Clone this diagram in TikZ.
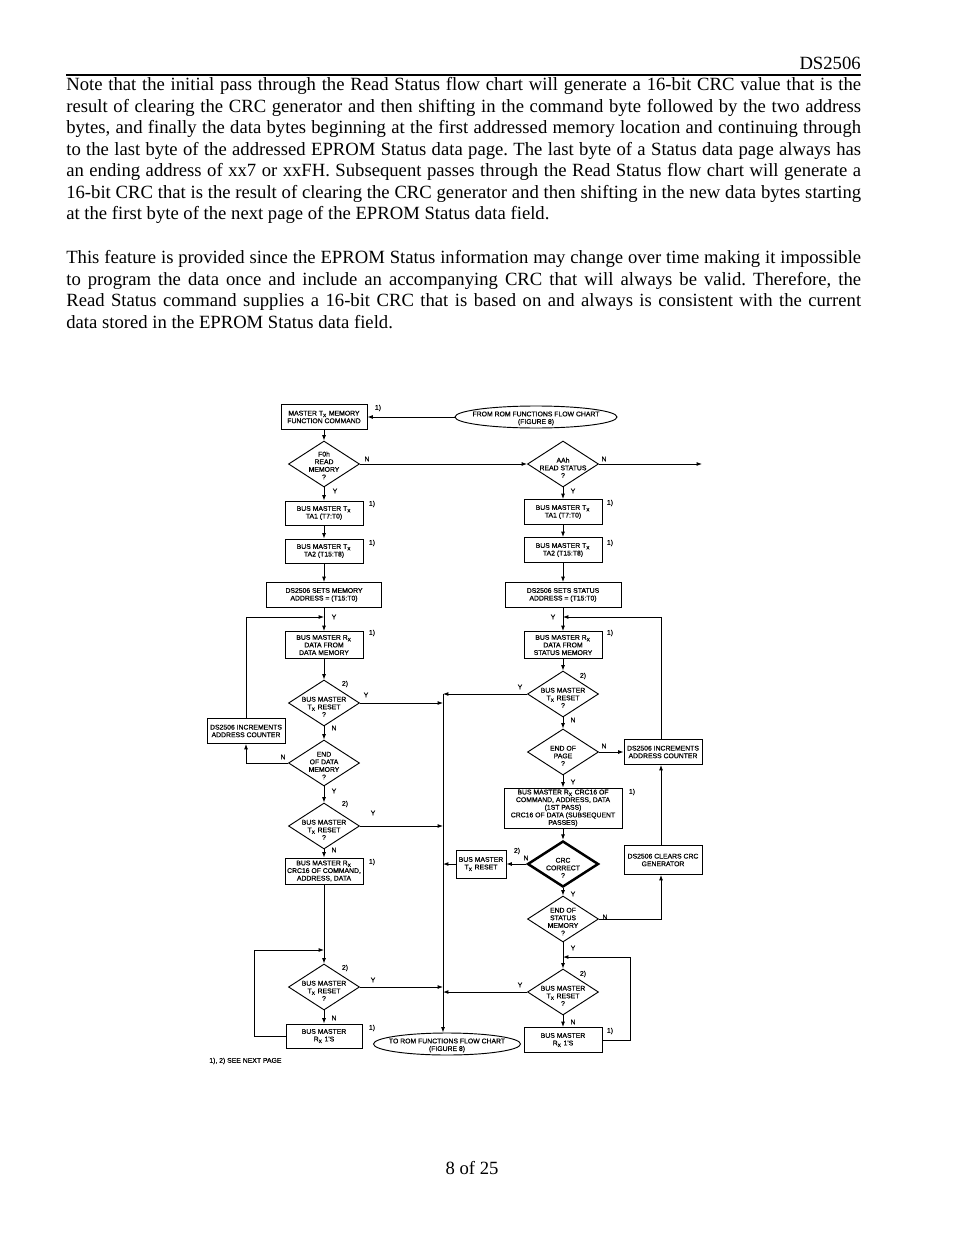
\documentclass[tikz,border=0pt]{standalone}
\usepackage{fontspec}
\setmainfont{Liberation Serif}
\newfontfamily\chartfont[FakeBold=0.6]{Liberation Sans}
\usetikzlibrary{arrows.meta,positioning,shapes.geometric}
\frenchspacing

\newdimen\pxu \pxu=0.6429pt
% centred lines that do not grow the shape
\newcommand{\inbox}[2][-4.3pt]{\smash{\makebox[0pt]{\raisebox{#1}{\begin{tabular}{@{}c@{}}#2\end{tabular}}}}}

\begin{document}
\begin{tikzpicture}[
x=0.6429pt, y=-0.6429pt,
body/.style={inner sep=0pt, font=\fontsize{12}{13.8}\selectfont},
chart/.style={font=\chartfont\fontsize{4.4}{4.9}\selectfont},
box/.style={chart, rectangle, draw, line width=0.6pt, inner sep=0.5pt, align=center, minimum width=78\pxu, minimum height=25\pxu},
decision/.style={chart, diamond, draw, line width=0.6pt, inner sep=0pt, minimum width=71\pxu, minimum height=46\pxu},
terminal/.style={chart, ellipse, draw, line width=0.6pt, inner sep=0pt, minimum height=22\pxu},
tag/.style={chart, inner sep=0pt},
arrow/.style={-{Latex[length=3.5pt,width=2.6pt]}, line width=0.6pt},
line/.style={line width=0.6pt}
]
\fill[white] (0,0) rectangle (954,1235);

% page text
\node[body, anchor=base east] (hdr) at (861,70) {DS2506};
\draw[line width=0.8pt] (66,75) -- (861,75);

\node[body, anchor=base west, text width=511pt, align=justify] (parone) at (66,91) {\hyphenpenalty=10000
Note that the initial pass through the Read Status flow chart will generate a 16-bit CRC value that is the\linebreak
result of clearing the CRC generator and then shifting in the command byte followed by the two address\linebreak
bytes, and finally the data bytes beginning at the first addressed memory location and continuing through\linebreak
to the last byte of the addressed EPROM Status data page. The last byte of a Status data page always has\linebreak
an ending address of xx7 or xxFH. Subsequent passes through the Read Status flow chart will generate a\linebreak
16-bit CRC that is the result of clearing the CRC generator and then shifting in the new data bytes starting\linebreak
at the first byte of the next page of the EPROM Status data field.};

\node[body, anchor=base west, text width=511pt, align=justify] (partwo) at (66,264) {\hyphenpenalty=10000
This feature is provided since the EPROM Status information may change over time making it impossible\linebreak
to program the data once and include an accompanying CRC that will always be valid. Therefore, the\linebreak
Read Status command supplies a 16-bit CRC that is based on and always is consistent with the current\linebreak
data stored in the EPROM Status data field.};

\node[body, anchor=base] (pageno) at (472,1174) {8 of 25};

% flow chart, left column
\node[box, minimum width=86\pxu] (cmd) at (324,417) {MASTER T\textsubscript{X} MEMORY\\FUNCTION COMMAND};
\node[terminal, minimum width=162\pxu] (fromrom) at (536,417) {\inbox[-2.3pt]{FROM ROM FUNCTIONS FLOW CHART\\(FIGURE 8)}};
\node[decision] (rdmem) at (324,464) {\inbox[-2.8pt]{F0h\\READ\\MEMORY\\?}};
\node[box, minimum height=24\pxu] (ltaone) at (324,513) {BUS MASTER T\textsubscript{X}\\TA1 (T7:T0)};
\node[box, minimum height=24\pxu] (ltatwo) at (324,551) {BUS MASTER T\textsubscript{X}\\TA2 (T15:T8)};
\node[box, minimum width=115\pxu] (lsets) at (324,595) {DS2506 SETS MEMORY\\ADDRESS = (T15:T0)};
\node[box, minimum height=27\pxu] (ldata) at (324,645) {BUS MASTER R\textsubscript{X}\\DATA FROM\\DATA MEMORY};
\node[decision] (lrsta) at (324,703) {\inbox{BUS MASTER\\T\textsubscript{X} RESET\\?}};
\node[box] (linc) at (246,731) {DS2506 INCREMENTS\\ADDRESS COUNTER};
\node[decision] (lend) at (324,763) {\inbox[-3.5pt]{END\\OF DATA\\MEMORY\\?}};
\node[decision] (lrstb) at (324,826) {\inbox{BUS MASTER\\T\textsubscript{X} RESET\\?}};
\node[box, minimum height=26\pxu] (lcrc) at (324,871) {BUS MASTER R\textsubscript{X}\\CRC16 OF COMMAND,\\ADDRESS, DATA};
\node[decision] (lrstc) at (324,987) {\inbox{BUS MASTER\\T\textsubscript{X} RESET\\?}};
\node[box, minimum width=76\pxu, minimum height=24\pxu] (lones) at (324,1036) {BUS MASTER\\R\textsubscript{X} 1'S};
\node[terminal, minimum width=147\pxu] (torom) at (447,1044) {\inbox[-2.3pt]{TO ROM FUNCTIONS FLOW CHART\\(FIGURE 8)}};
\node[tag, anchor=west] (seenext) at (209,1061) {1), 2) SEE NEXT PAGE};

% flow chart, right column
\node[decision] (rdstat) at (563,464) {\inbox{AAh\\READ STATUS\\?}};
\coordinate (exitn) at (702,464);
\node[box] (rtaone) at (563,512) {BUS MASTER T\textsubscript{X}\\TA1 (T7:T0)};
\node[box] (rtatwo) at (563,550) {BUS MASTER T\textsubscript{X}\\TA2 (T15:T8)};
\node[box, minimum width=116\pxu] (rsets) at (563,595) {DS2506 SETS STATUS\\ADDRESS = (T15:T0)};
\node[box, minimum height=27\pxu] (rdata) at (563,645) {BUS MASTER R\textsubscript{X}\\DATA FROM\\STATUS MEMORY};
\node[decision] (rrsta) at (563,694) {\inbox{BUS MASTER\\T\textsubscript{X} RESET\\?}};
\node[decision] (rpage) at (563,752) {\inbox{END OF\\PAGE\\?}};
\node[box] (rinc) at (663,752) {DS2506 INCREMENTS\\ADDRESS COUNTER};
\node[box, minimum width=118\pxu, minimum height=40\pxu] (rcrc) at (563,808) {BUS MASTER R\textsubscript{X} CRC16 OF\\COMMAND, ADDRESS, DATA\\(1ST PASS)\\CRC16 OF DATA (SUBSEQUENT\\PASSES)};
\node[decision, line width=1.6pt] (rcrcok) at (563,864) {\inbox{CRC\\CORRECT\\?}};
\node[box, minimum width=50\pxu, minimum height=28\pxu] (rtxrst) at (481,864) {BUS MASTER\\T\textsubscript{X} RESET};
\node[box, minimum height=29\pxu] (rclr) at (663,860) {DS2506 CLEARS CRC\\GENERATOR};
\node[decision] (rendst) at (563,919) {\inbox[-3.5pt]{END OF\\STATUS\\MEMORY\\?}};
\node[decision] (rrstb) at (563,992) {\inbox{BUS MASTER\\T\textsubscript{X} RESET\\?}};
\node[box] (rones) at (563,1040) {BUS MASTER\\R\textsubscript{X} 1'S};

% junctions
\coordinate (bustop) at (443,694);
\coordinate (ljoin) at (324,617);
\coordinate (rjoin) at (563,617);
\coordinate (lloop) at (324,950);
\coordinate (rloop) at (563,957);

% notes 1) and 2)
\foreach \x/\y/\n in {378/408/a, 372/504/b, 372/543/c, 610/503/d, 610/543/e, 372/633/f, 610/633/g, 632/792/h, 372/862/i, 372/1028/j, 610/1031/k}
  \node[tag] (one\n) at (\x,\y) {1)};
\foreach \x/\y/\n in {345/684/a, 583/676/b, 345/804/c, 517/851/d, 345/968/e, 583/974/f}
  \node[tag] (two\n) at (\x,\y) {2)};

% yes / no
\foreach \x/\y/\n in {367/459/a, 604/459/b, 334/728/c, 573/720/d, 283/757/e, 604/746/f, 334/850/g, 526/858/h, 605/917/i, 334/1018/j, 573/1022/k}
  \node[tag] (no\n) at (\x,\y) {N};
\foreach \x/\y/\n in {335/491/a, 573/491/b, 334/617/c, 553/617/d, 366/695/e, 520/687/f, 334/791/g, 573/782/h, 373/813/i, 573/894/j, 573/948/k, 373/980/l, 520/985/m}
  \node[tag] (yes\n) at (\x,\y) {Y};

% connectors
\draw[arrow] (fromrom) -- (cmd);
\draw[arrow] (cmd) -- (rdmem);
\draw[arrow] (rdmem) -- (rdstat);
\draw[arrow] (rdstat) -- (exitn);
\draw[arrow] (rdmem) -- (ltaone);
\draw[arrow] (ltaone) -- (ltatwo);
\draw[arrow] (ltatwo) -- (lsets);
\draw[arrow] (lsets) -- (ldata);
\draw[arrow] (ldata) -- (lrsta);
\draw[arrow] (lrsta) -- (lend);
\draw[arrow] (lend) -- (lrstb);
\draw[arrow] (lrstb) -- (lcrc);
\draw[arrow] (lcrc) -- (lrstc);
\draw[arrow] (lrstc) -- (lones);
\draw[arrow] (lend) -| (linc);
\draw[arrow] (linc) |- (ljoin);
\draw[arrow] (lones.west) -- ++(-31,0) |- (lloop);

\draw[arrow] (rdstat) -- (rtaone);
\draw[arrow] (rtaone) -- (rtatwo);
\draw[arrow] (rtatwo) -- (rsets);
\draw[arrow] (rsets) -- (rdata);
\draw[arrow] (rdata) -- (rrsta);
\draw[arrow] (rrsta) -- (rpage);
\draw[arrow] (rpage) -- (rcrc);
\draw[arrow] (rcrc) -- (rcrcok);
\draw[arrow] (rcrcok) -- (rendst);
\draw[arrow] (rendst) -- (rrstb);
\draw[arrow] (rrstb) -- (rones);
\draw[arrow] (rpage) -- (rinc);
\draw[arrow] (rinc.north -| 661,0) |- (rjoin);
\draw[arrow] (rclr.north -| 661,0) -- (rinc.south -| 661,0);
\draw[arrow] (rendst) -| (rclr.south -| 661,0);
\draw[arrow] (rcrcok) -- (rtxrst);
\draw[arrow] (rones.east) -- ++(28,0) |- (rloop);

% shared line to the exit
\draw[arrow] (bustop) -- (bustop |- torom.north);
\draw[arrow] (lrsta.east) -- (lrsta.east -| bustop);
\draw[arrow] (lrstb.east) -- (lrstb.east -| bustop);
\draw[arrow] (lrstc.east) -- (lrstc.east -| bustop);
\draw[arrow] (rrsta.west) -- (bustop);
\draw[arrow] (rtxrst.west) -- (rtxrst.west -| bustop);
\draw[arrow] (rrstb.west) -- (rrstb.west -| bustop);

\end{tikzpicture}
\end{document}
